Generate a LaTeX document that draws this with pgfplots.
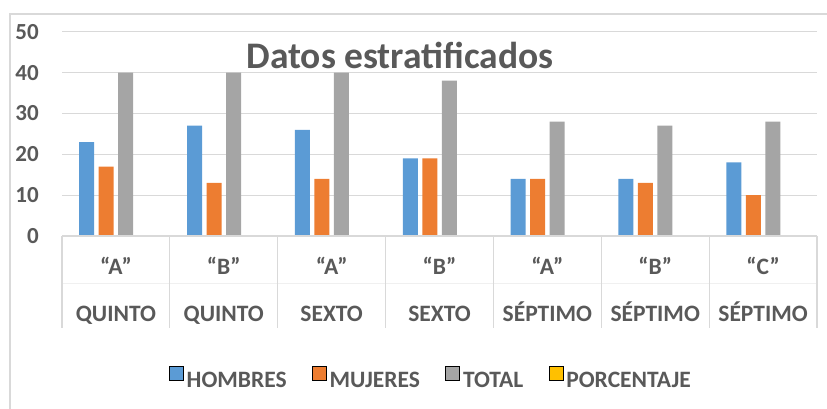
\documentclass[border=0pt]{standalone}
\usepackage{pgfplots}
\pgfplotsset{compat=1.18}
\usepackage{fontspec}
\setmainfont{Carlito}
\definecolor{cblue}{HTML}{5B9BD5}
\definecolor{corange}{HTML}{ED7D31}
\definecolor{cgray}{HTML}{A5A5A5}
\definecolor{cyellow}{HTML}{FFC000}
\definecolor{textgray}{HTML}{595959}
\definecolor{gridgray}{HTML}{D9D9D9}
\pgfplotsset{sqimg/.style={only marks, mark=square*, mark size=7pt, mark options={draw=none, fill=#1}, yshift=7.5pt}}
\begin{document}
\begin{tikzpicture}[x=1pt,y=1pt]
\useasboundingbox (0,0) rectangle (827,409);
\draw[gridgray, line width=1.2pt] (10,0) -- (10,395) -- (827,395);
\draw[gridgray!40, line width=0.8pt] (62,126) -- (817,126);
\begin{axis}[
  at={(62pt,173pt)}, anchor=south west,
  scale only axis, width=755pt, height=204.3pt,
  xmin=-0.5, xmax=6.5, ymin=0, ymax=50,
  ytick={0,10,...,50},
  xtick={0,...,6},
  xticklabels={{“A”\\[23pt]QUINTO},{“B”\\[23pt]QUINTO},{“A”\\[23pt]SEXTO},{“B”\\[23pt]SEXTO},{“A”\\[23pt]SÉPTIMO},{“B”\\[23pt]SÉPTIMO},{“C”\\[23pt]SÉPTIMO}},
  extra x ticks={-0.5,0.5,...,6.5},
  extra x tick labels={},
  extra x tick style={major tick length=92pt, tick align=outside, tick style={draw=gridgray, line width=1.2pt}, grid=none},
  major tick length=0pt,
  axis line style={draw=none},
  axis x line*=bottom,
  ymajorgrids, grid style={gridgray, line width=1.2pt},
  /pgf/number format/assume math mode=true,
  yticklabel style={font=\fontsize{23}{23}\selectfont\bfseries, text=textgray, anchor=east, inner sep=0pt, xshift=-23pt},
  xticklabel style={font=\fontsize{23.5}{23.5}\selectfont\bfseries, text=textgray, align=center, anchor=north, inner sep=0pt, yshift=-21pt},
  legend columns=4,
  legend style={at={(axis description cs:0.4874,-0.695)}, anchor=center, draw=none, fill=none,
    font=\fontsize{23.5}{23.5}\selectfont\bfseries, text=textgray,
    nodes={inner sep=0pt},
    /tikz/every odd column/.append style={column sep=3.5pt},
    /tikz/every even column/.append style={column sep=25.5pt}},
]
\addplot[ybar, bar width=15pt, bar shift=-29.25pt, fill=cblue, draw=none] coordinates {(0,23) (1,27) (2,26) (3,19) (4,14) (5,14) (6,18)};
\addplot[ybar, bar width=15pt, bar shift=-9.75pt, fill=corange, draw=none] coordinates {(0,17) (1,13) (2,14) (3,19) (4,14) (5,13) (6,10)};
\addplot[ybar, bar width=15pt, bar shift=9.75pt, fill=cgray, draw=none] coordinates {(0,40) (1,40) (2,40) (3,38) (4,28) (5,27) (6,28)};
\addplot[ybar, bar width=15pt, bar shift=29.25pt, fill=cyellow, draw=none] coordinates {(0,0) (1,0) (2,0) (3,0) (4,0) (5,0) (6,0)};
\addlegendimage{sqimg=cblue}
\addlegendimage{sqimg=corange}
\addlegendimage{sqimg=cgray}
\addlegendimage{sqimg=cyellow}
\legend{,,,,HOMBRES,MUJERES,TOTAL,PORCENTAJE}
\draw[gridgray, line width=1.2pt] (axis cs:-0.5,0) -- (axis cs:6.5,0);
\end{axis}
\node[font=\fontsize{37.5}{37.5}\selectfont\bfseries, text=textgray, inner sep=0pt] at (400,354) {Datos estratificados};
\end{tikzpicture}
\end{document}
